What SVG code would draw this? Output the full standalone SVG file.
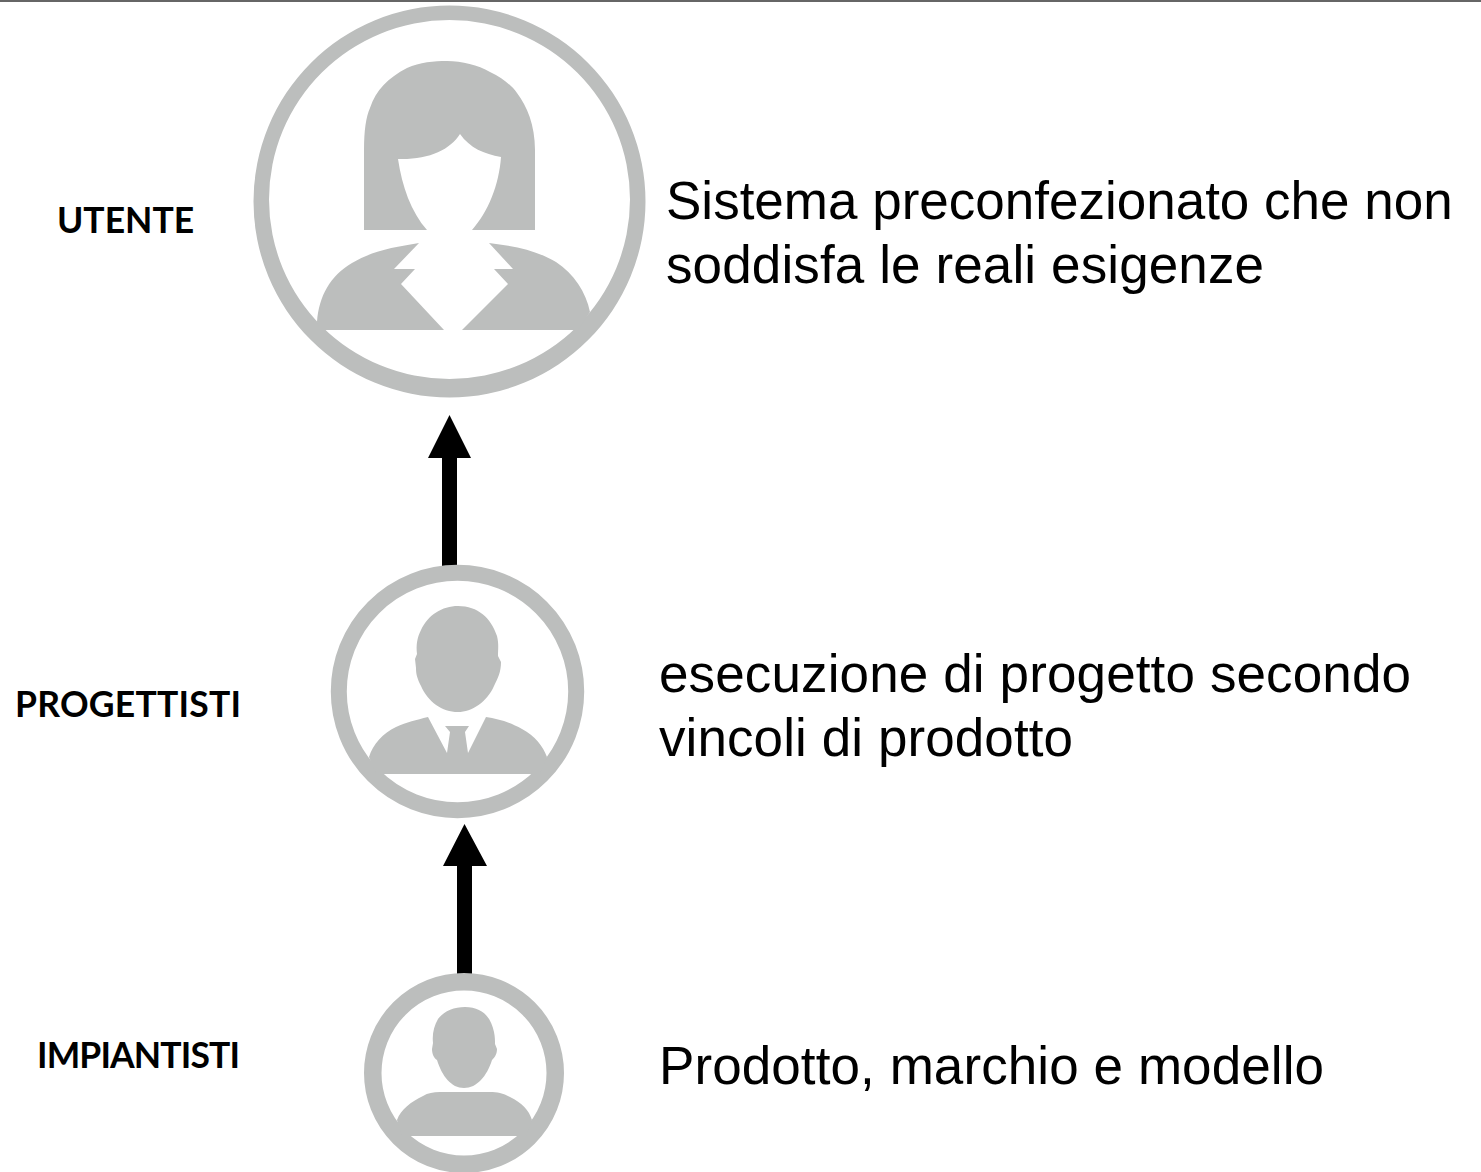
<svg xmlns="http://www.w3.org/2000/svg" width="1481" height="1172" viewBox="0 0 1481 1172">
<style>
.ring{fill:none;stroke:#bcbebd}
.fig{fill:#bcbebd;stroke:none}
.desc{font-family:"Liberation Sans",Arial,sans-serif;font-size:53px;fill:#000}
.lab{font-family:Lato,"Open Sans",sans-serif;font-weight:700;font-size:35.500px;fill:#000}
.shaft{fill:#000}
</style>
<rect width="1481" height="1172" fill="#fff"/>
<rect x="0" y="0" width="1481" height="2" fill="#666"/>
<g id="connectors">
<path class="shaft" d="M449.500 415L471 458H457V566H442V458H428Z"/>
<path class="shaft" d="M464.500 824L487 866H472V975H457V866H443Z"/>
</g>
<g id="node-utente">
<path class="fig" fill-rule="evenodd" d="M253.500 201.500A196 196 0 1 0 645.500 201.500A196 196 0 1 0 253.500 201.500ZM269 199.500A180.500 179.500 0 1 1 630 199.500A180.500 179.500 0 1 1 269 199.500Z"/>
<path class="fig" d="M364 230V150C364 130 366 117 370 108C376 90 388 78 407 68C420 62 434 61 447 61C462 61 478 65 490 72C503 78 512 86 517 93C527 106 535 125 535 150V230H472C488 212 499 185 501 157C484 154 470 148 460 134C450 150 428 160 398 159C402 186 411 212 427 230Z"/>
<path class="fig" d="M317 322C319 296 330 276 352 263C372 251 394 247 419 243L394 269H415L401 284L444 330H320Z"/>
<path class="fig" d="M590 312C586 292 574 274 556 262C536 250 514 246 489 243L513 269H494L508 284L462 330H578Z"/>
<text class="lab" x="57" y="233">UTENTE</text>
<text class="desc" x="666" y="219">Sistema preconfezionato che non</text>
<text class="desc" x="666" y="283" textLength="598" lengthAdjust="spacing">soddisfa le reali esigenze</text>
</g>
<g id="node-progettisti">
<circle class="ring" cx="457.500" cy="691.500" r="118.700" stroke-width="16"/>
<path class="fig" d="M458 606C478 606 491 618 497 636C499 644 498 650 498 656L501 662C501 672 498 678 494 686C487 702 472 712 458 712C442 712 428 702 421 686C417 678 416 674 416 668L415 659L417 654C416 645 417 638 421 630C428 615 442 606 458 606Z"/>
<path class="fig" d="M369 757C373 744 383 733 396 727C407 722 416 720 428 717L447 753L450 732L445 726H469L465 732L468 753L486 717C498 719 510 722 522 729C535 736 543 746 547 757L540 774H376Z"/>
<text class="lab" x="15" y="717" textLength="226" lengthAdjust="spacing">PROGETTISTI</text>
<text class="desc" x="659" y="692" textLength="752" lengthAdjust="spacing">esecuzione di progetto secondo</text>
<text class="desc" x="659" y="756" textLength="414" lengthAdjust="spacing">vincoli di prodotto</text>
</g>
<g id="node-impiantisti">
<circle class="ring" cx="464" cy="1073" r="91.250" stroke-width="17.500"/>
<path class="fig" d="M465 1007C482 1007 491 1017 494 1032C495 1037 495 1041 495 1044L497 1049C497 1055 494 1058 492 1060C487 1076 477 1088 464 1088C451 1088 442 1076 437 1060C434 1058 432 1054 432 1049L433 1043C432 1034 434 1026 438 1019C444 1011 454 1007 465 1007Z"/>
<path class="fig" d="M397 1120C401 1109 411 1102 423 1096C428 1093 433 1092 440 1092H490C497 1092 503 1093 510 1097C522 1103 529 1110 532 1120L526 1136H402Z"/>
<text class="lab" x="37" y="1068" textLength="203" lengthAdjust="spacing">IMPIANTISTI</text>
<text class="desc" x="659" y="1084" textLength="665" lengthAdjust="spacing">Prodotto, marchio e modello</text>
</g>
</svg>
